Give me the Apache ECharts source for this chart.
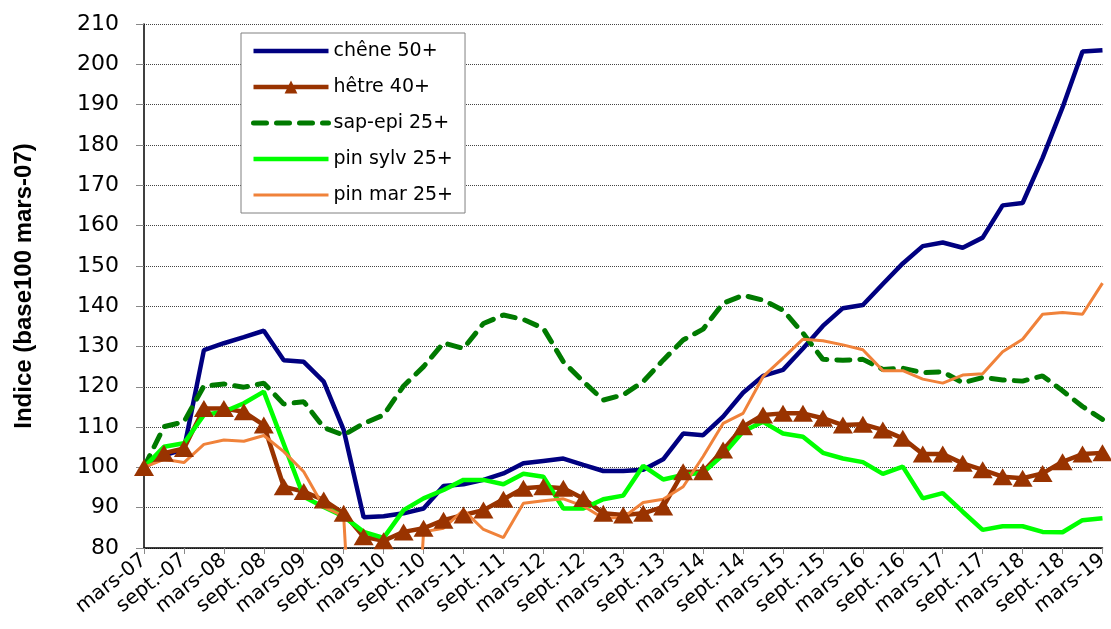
<!DOCTYPE html>
<html>
<head>
<meta charset="utf-8">
<script src="https://cdn.jsdelivr.net/npm/echarts@6/dist/echarts.min.js"></script>
<style>
    html, body { margin: 0; padding: 0; background: #fff; }
    #chart { width: 1111px; height: 629px; }
</style>
</head>
<body>
<div id="chart"></div>
<script>
(function () {
    'use strict';

    // trimestres de mars-07 a mars-19
    var months = ['mars', 'juin', 'sept.', 'déc.'];
    var categories = [];
    for (var y = 7; y <= 19; y++) {
        for (var m = 0; m < 4; m++) {
            if (y === 19 && m > 0) break;
            categories.push(months[m] + '-' + (y < 10 ? '0' + y : y));
        }
    }

    var chene = [100, 103, 104.5, 129.1, 130.8, 132.3, 133.9, 126.6, 126.2, 121.3, 109.3, 87.6, 87.9, 88.6, 89.8, 95.4, 95.8, 96.9, 98.5, 101.0, 101.6, 102.2, 100.6, 99.1, 99.1, 99.4, 102.0, 108.4, 108.0, 112.6, 118.5, 122.7, 124.2, 129.5, 135.1, 139.5, 140.3, 145.5, 150.6, 154.9, 155.8, 154.5, 157.0, 165.0, 165.6, 176.8, 189.3, 203.2, 203.5];
    var hetre = [100, 103.5, 104.7, 114.6, 114.6, 113.8, 110.5, 95.2, 94.0, 91.9, 88.6, 82.8, 81.8, 84.0, 84.9, 86.9, 88.2, 89.4, 92.1, 94.8, 95.2, 94.8, 92.3, 88.6, 88.2, 88.6, 90.2, 98.9, 98.9, 104.3, 110.1, 113.0, 113.4, 113.4, 112.2, 110.5, 110.7, 109.3, 107.2, 103.3, 103.3, 101.0, 99.4, 97.7, 97.3, 98.5, 101.4, 103.3, 103.6];
    var sapEpi = [100, 110.1, 111.3, 120.2, 120.7, 119.9, 120.9, 115.7, 116.3, 109.9, 108.0, 110.9, 113.0, 120.2, 125.0, 130.9, 129.5, 135.7, 137.8, 136.7, 134.5, 126.2, 121.3, 116.7, 118.0, 121.3, 126.6, 131.6, 134.3, 140.7, 142.7, 141.5, 139.0, 133.3, 126.8, 126.6, 126.8, 124.3, 124.6, 123.5, 123.7, 121.0, 122.3, 121.7, 121.4, 122.7, 119.0, 115.1, 111.9];
    var pinSylv = [100, 105.1, 106.0, 113.0, 113.8, 115.9, 118.8, 105.8, 92.7, 90.2, 87.8, 84.0, 82.5, 89.4, 92.3, 94.4, 96.9, 96.9, 95.8, 98.4, 97.7, 89.8, 89.8, 92.1, 93.0, 100.4, 97.0, 98.1, 98.7, 103.1, 108.9, 111.3, 108.4, 107.6, 103.6, 102.2, 101.3, 98.4, 100.2, 92.3, 93.6, 89.0, 84.5, 85.4, 85.4, 84.0, 83.9, 86.9, 87.4];
    // 0 = valeur manquante, tracee a zero dans l'original
    var pinMar = [100, 102.0, 101.2, 105.7, 106.8, 106.5, 107.9, 103.9, 98.9, 90.2, 87.9, 0, 0, 0, 84.0, 84.9, 89.4, 84.6, 82.6, 91.1, 91.7, 92.2, 90.4, 87.4, 87.6, 91.3, 92.1, 95.2, 102.7, 110.9, 113.4, 122.5, 127.1, 131.8, 131.4, 130.4, 129.2, 124.0, 124.0, 121.9, 120.9, 122.9, 123.2, 128.7, 131.8, 138.0, 138.4, 138.0, 145.7];

    var font = '"DejaVu Sans", Arial, sans-serif';
    var titleFont = '"Liberation Sans", Arial, sans-serif';

    var NAVY = '#000080';
    var BROWN = '#993300';
    var DKGREEN = '#007a00';
    var LIME = '#00ff00';
    var ORANGE = '#f0823a';
    var DASH = [13, 10];

    var chart = echarts.init(document.getElementById('chart'));

    chart.setOption({
        animation: false,
        textStyle: { fontFamily: font, color: '#000' },
        grid: { left: 144, right: 6, top: 24, bottom: 81 },
        legend: {
            orient: 'vertical',
            left: 241,
            top: 33,
            padding: [8, 12, 8, 10],
            backgroundColor: '#fff',
            borderColor: '#808080',
            borderWidth: 1,
            itemWidth: 75,
            itemHeight: 16,
            itemGap: 16,
            textStyle: { fontFamily: font, fontSize: 19, color: '#000', lineHeight: 20 },
            data: [
                { name: 'chêne 50+', itemStyle: { opacity: 0 }, lineStyle: { width: 4.5 } },
                { name: 'hêtre 40+', lineStyle: { width: 4.5 } },
                { name: 'sap-epi 25+', itemStyle: { opacity: 0 }, lineStyle: { width: 5, type: DASH, cap: 'round' } },
                { name: 'pin sylv 25+', itemStyle: { opacity: 0 }, lineStyle: { width: 4.5 } },
                { name: 'pin mar 25+', itemStyle: { opacity: 0 }, lineStyle: { width: 3 } }
            ]
        },
        xAxis: {
            type: 'category',
            data: categories,
            boundaryGap: false,
            axisLine: { lineStyle: { color: '#000', width: 1.5 } },
            axisTick: { interval: 1, length: 6, lineStyle: { color: '#888' } },
            axisLabel: {
                interval: 1,
                rotate: 38,
                margin: 10,
                fontSize: 20,
                fontFamily: font,
                color: '#000'
            },
            splitLine: { show: false }
        },
        yAxis: {
            type: 'value',
            min: 80,
            max: 210,
            interval: 10,
            name: 'Indice (base100 mars-07)',
            nameLocation: 'middle',
            nameRotate: 90,
            nameGap: 108,
            nameTextStyle: { fontFamily: titleFont, fontSize: 24, fontWeight: 'bold', color: '#000' },
            axisLine: { show: true, lineStyle: { color: '#000', width: 1.5 } },
            axisTick: { show: true, length: 8, lineStyle: { color: '#888' } },
            axisLabel: { margin: 25, fontSize: 22, fontFamily: font, color: '#000' },
            splitLine: { lineStyle: { color: '#444', type: 'dotted', width: 1 } }
        },
        series: [{
            name: 'chêne 50+',
            type: 'line',
            data: chene,
            symbol: 'none',
            color: NAVY,
            lineStyle: { width: 4.5, color: NAVY }
        }, {
            name: 'hêtre 40+',
            type: 'line',
            data: hetre,
            symbol: 'triangle',
            symbolSize: [20, 17],
            showAllSymbol: true,
            color: BROWN,
            itemStyle: { color: BROWN },
            lineStyle: { width: 4.5, color: BROWN }
        }, {
            name: 'sap-epi 25+',
            type: 'line',
            data: sapEpi,
            symbol: 'none',
            color: DKGREEN,
            lineStyle: { width: 5, color: DKGREEN, type: DASH, cap: 'round' }
        }, {
            name: 'pin sylv 25+',
            type: 'line',
            data: pinSylv,
            symbol: 'none',
            color: LIME,
            lineStyle: { width: 4.5, color: LIME }
        }, {
            name: 'pin mar 25+',
            type: 'line',
            data: pinMar,
            symbol: 'none',
            color: ORANGE,
            lineStyle: { width: 3, color: ORANGE }
        }]
    });
}());
</script>
</body>
</html>
